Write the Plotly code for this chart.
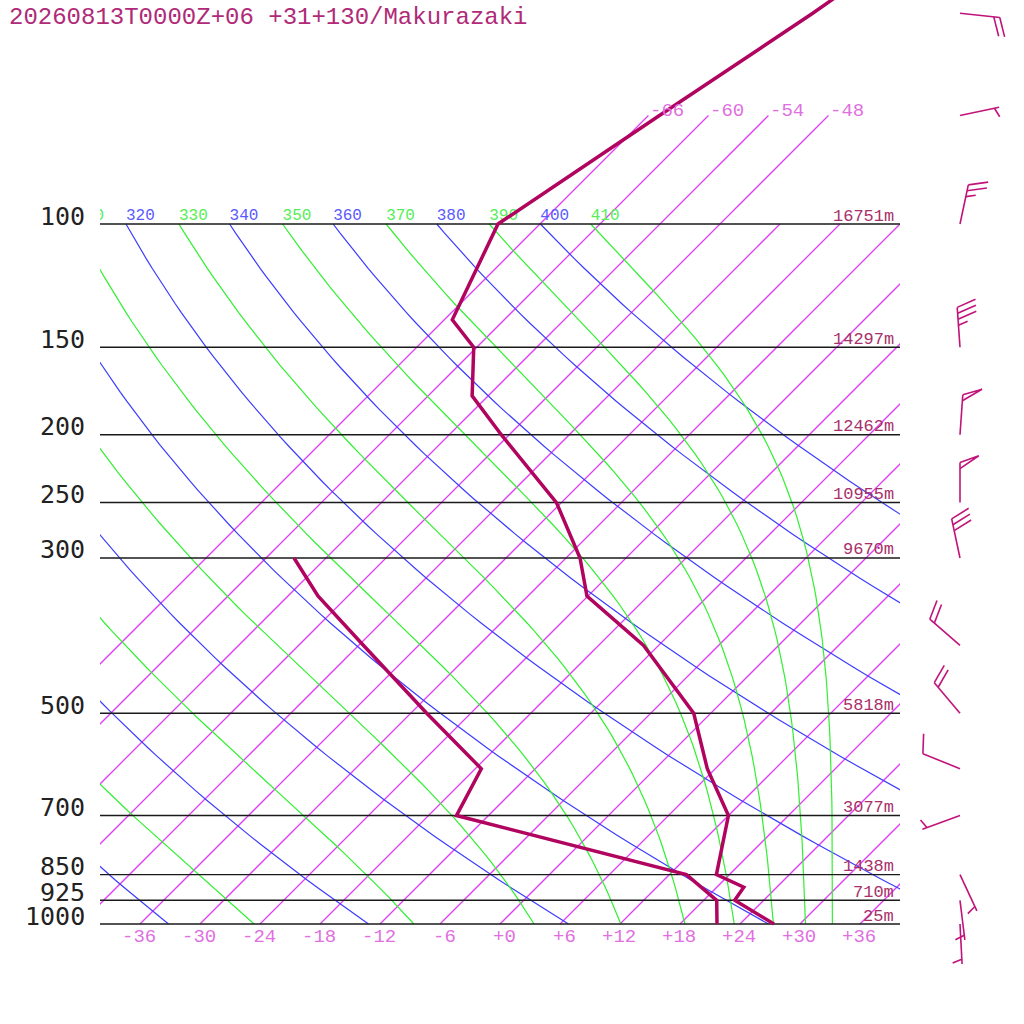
import numpy as np
import plotly.graph_objects as go

TITLE = "20260813T0000Z+06 +31+130/Makurazaki"

# isobars and their heights
ISOBARS = [100, 150, 200, 250, 300, 500, 700, 850, 925, 1000]
HEIGHTS = ["16751m", "14297m", "12462m", "10955m", "9670m", "5818m", "3077m", "1438m", "710m", "25m"]

# temperature profile (hPa, degC)
T_P = [1000, 925, 886, 850, 700, 600, 500, 400, 340, 300, 250, 200, 176, 150, 137, 100, 70, 50, 30]
T_C = [27.4, 21.1, 20.7, 16.7, 12.0, 5.2, -1.7, -13.5, -24.1, -28.6, -36.5, -48.8, -55.6, -60.3, -65.2, -70.2, -64.9, -59.8, -53.2]

# dewpoint profile
TD_P = [1000, 925, 850, 700, 600, 500, 400, 340, 300]
TD_C = [21.7, 19.3, 13.7, -15.2, -17.4, -28.4, -41.5, -51.0, -57.2]

# winds (direction from, knots)
WIND_P = [50, 70, 100, 150, 200, 250, 300, 400, 500, 600, 700, 850, 925, 1000]
WIND_DIR = [96, 78, 12, 356, 4, 0, 348, 311, 320, 292, 250, 155, 173, 177]
WIND_KT = [20, 5, 25, 35, 50, 50, 30, 20, 20, 10, 5, 5, 5, 5]

T_TICKS = list(range(-36, 37, 6))
ISOTHERMS = list(range(-66, 37, 6))
ISOTHERM_LABELS = [-66, -60, -54, -48]
DRY_THETA = list(range(220, 401, 20))
MOIST_THETAE = list(range(230, 411, 20))

# ---- styling / geometry constants ----
SKEW = 70.0          # degC of skew per decade of pressure
P_BOTTOM, P_TOP_GRID, P_TOP_ISO = 1000.0, 100.0, 70.0
PX_DECADE = 700.0    # pixels per decade of pressure
FIG = 1024
FONT = "Liberation Mono"
PROFILE_COL = "#b0045f"
ISO_COL = "#e040f4"
BLUE = "#3c3cff"
GREEN = "#30f030"
BARB_COL = "#c0147a"


def skx(T, p):
    return np.asarray(T, float) + SKEW * np.log10(1000.0 / np.asarray(p, float))


def theta_e_sat(Tk, p):
    Tc = Tk - 273.15
    es = 6.112 * np.exp(17.67 * Tc / (Tc + 243.5))
    ok = es < 0.5 * p
    es = np.where(ok, es, 0.5 * p)
    r = 1000 * 0.622 * es / (p - es)
    th = Tk * (1000.0 / p) ** (0.2854 * (1 - 0.00028 * r))
    te = th * np.exp((3.376 / Tk - 0.00254) * r * (1 + 0.00081 * r))
    return np.where(ok, te, 1e6)


def moist_T(thetae, p):
    lo = np.full_like(p, 120.0)
    hi = np.full_like(p, 340.0)
    for _ in range(60):
        mid = 0.5 * (lo + hi)
        big = theta_e_sat(mid, p) > thetae
        hi = np.where(big, mid, hi)
        lo = np.where(big, lo, mid)
    return 0.5 * (lo + hi) - 273.15


fig = go.Figure()

pgrid = np.geomspace(P_BOTTOM, P_TOP_GRID, 80)

# isotherms
for T in ISOTHERMS:
    ptop = P_TOP_ISO if T in ISOTHERM_LABELS else P_TOP_GRID
    ps = np.geomspace(P_BOTTOM, ptop, 20)
    fig.add_trace(go.Scatter(x=skx(np.full(ps.shape, float(T)), ps).tolist(), y=ps.tolist(),
                             mode="lines", opacity=1.0,
                             line=dict(color=ISO_COL, width=1.3), hoverinfo="skip"))

# dry adiabats
for th in DRY_THETA:
    Tc = th * (pgrid / 1000.0) ** 0.2857 - 273.15
    fig.add_trace(go.Scatter(x=skx(Tc, pgrid), y=pgrid, mode="lines",
                             line=dict(color=BLUE, width=1.2), hoverinfo="skip"))
# moist adiabats
for te in MOIST_THETAE:
    Tc = moist_T(te, pgrid)
    fig.add_trace(go.Scatter(x=skx(Tc, pgrid), y=pgrid, mode="lines",
                             line=dict(color=GREEN, width=1.2), hoverinfo="skip"))

# isobars
for p in ISOBARS:
    fig.add_trace(go.Scatter(x=[-40, 40], y=[p, p], mode="lines",
                             line=dict(color="#1a1a1a", width=1.4), hoverinfo="skip"))

# adiabat labels at 100 hPa (clipped at plot edge)
lab_x, lab_t, lab_c = [], [], []
for th in DRY_THETA:
    Tc = th * (P_TOP_GRID / 1000.0) ** 0.2857 - 273.15
    lab_x.append(float(skx(Tc, P_TOP_GRID))); lab_t.append(str(th)); lab_c.append("#5a5aff")
for te in MOIST_THETAE:
    Tc = float(moist_T(float(te), np.array([P_TOP_GRID]))[0])
    lab_x.append(float(skx(Tc, P_TOP_GRID))); lab_t.append(str(te)); lab_c.append("#55ee55")
fig.add_trace(go.Scatter(x=lab_x, y=[P_TOP_GRID] * len(lab_x), mode="text", text=lab_t,
                         textposition="top right", cliponaxis=True,
                         textfont=dict(family=FONT, size=16, color=lab_c), hoverinfo="skip"))

# profiles
fig.add_trace(go.Scatter(x=skx(TD_C, TD_P), y=TD_P, mode="lines",
                         line=dict(color=PROFILE_COL, width=3.5), hoverinfo="skip"))
fig.add_trace(go.Scatter(x=skx(T_C, T_P), y=T_P, mode="lines",
                         line=dict(color=PROFILE_COL, width=3.5), hoverinfo="skip"))

# wind barbs (second subplot, pixel-like units)
STAFF, FULL, HALF, GAP, ANG = 40.0, 20.0, 10.0, 6.0, np.radians(70)
bx, by = [], []
for p, d, s in zip(WIND_P, WIND_DIR, WIND_KT):
    z = PX_DECADE * np.log10(1000.0 / p)
    u = np.array([np.sin(np.radians(d)), np.cos(np.radians(d))])
    b = np.array([u[0] * np.cos(ANG) + u[1] * np.sin(ANG), -u[0] * np.sin(ANG) + u[1] * np.cos(ANG)])
    base = np.array([0.0, z])
    tip = base + STAFF * u
    bx += [base[0], tip[0], None]; by += [base[1], tip[1], None]
    n50, rem = divmod(int(round(s / 5.0)) * 5, 50)
    n10, rem = divmod(rem, 10)
    n5 = rem // 5
    pos = 0.0
    for _ in range(n50):
        a = tip - pos * u
        c = a - GAP * u
        apex = a + FULL * b
        bx += [a[0], apex[0], c[0], None]; by += [a[1], apex[1], c[1], None]
        pos += GAP + 1
    for _ in range(n10):
        a = tip - pos * u
        e = a + FULL * b
        bx += [a[0], e[0], None]; by += [a[1], e[1], None]
        pos += GAP
    for _ in range(n5):
        if pos == 0:
            pos = GAP * 0.8
        a = tip - pos * u
        e = a + HALF * b
        bx += [a[0], e[0], None]; by += [a[1], e[1], None]
fig.add_trace(go.Scatter(x=bx, y=by, mode="lines", xaxis="x2", yaxis="y2",
                         line=dict(color=BARB_COL, width=1.6), hoverinfo="skip"))

ann = []
# title
ann.append(dict(text=TITLE, xref="paper", yref="paper", x=7 / FIG, y=1 - 17 / FIG,
                xanchor="left", yanchor="middle", showarrow=False,
                font=dict(family=FONT, size=24, color="#b02a78")))
# pressure labels
for p in ISOBARS:
    ann.append(dict(text=str(p), xref="paper", yref="y", x=87 / FIG, y=np.log10(p),
                    xanchor="right", yanchor="middle", yshift=8, showarrow=False,
                    font=dict(family="DejaVu Sans Mono", size=25, color="#222222")))
# height labels
for p, h in zip(ISOBARS, HEIGHTS):
    ann.append(dict(text=h, xref="paper", yref="y", x=896 / FIG, y=np.log10(p),
                    xanchor="right", yanchor="middle", yshift=8, showarrow=False,
                    font=dict(family=FONT, size=17, color="#a8306a")))
# temperature ticks
for T in T_TICKS:
    ann.append(dict(text="%+d" % T, xref="x", yref="y", x=float(skx(T, P_BOTTOM)),
                    y=np.log10(P_BOTTOM), xanchor="right", xshift=18, yanchor="middle", yshift=-13,
                    showarrow=False, font=dict(family=FONT, size=19, color="#e070e0")))
# isotherm labels at the top
for T in ISOTHERM_LABELS:
    ann.append(dict(text="%d" % T, xref="x", yref="y", x=float(skx(T, P_TOP_ISO)),
                    y=np.log10(P_TOP_ISO), xanchor="left", yanchor="middle", yshift=5,
                    showarrow=False, font=dict(family=FONT, size=19, color="#e070e0")))

fig.update_layout(
    width=FIG, height=FIG, margin=dict(l=0, r=0, t=0, b=0),
    paper_bgcolor="white", plot_bgcolor="rgba(0,0,0,0)", showlegend=False,
    xaxis=dict(domain=[100 / FIG, 900 / FIG], range=[-40, 40], visible=False),
    yaxis=dict(type="log", domain=[0, 1], range=[3 + 100 / PX_DECADE, 3 - 924 / PX_DECADE], visible=False),
    xaxis2=dict(domain=[900 / FIG, 1], range=[-60, 64], visible=False, anchor="y2"),
    yaxis2=dict(domain=[0, 1], range=[-100, 924], visible=False, anchor="x2"),
    annotations=ann,
)

fig.write_html("out.html", config={"displayModeBar": False},
               post_script="document.body.style.margin='0px';")
